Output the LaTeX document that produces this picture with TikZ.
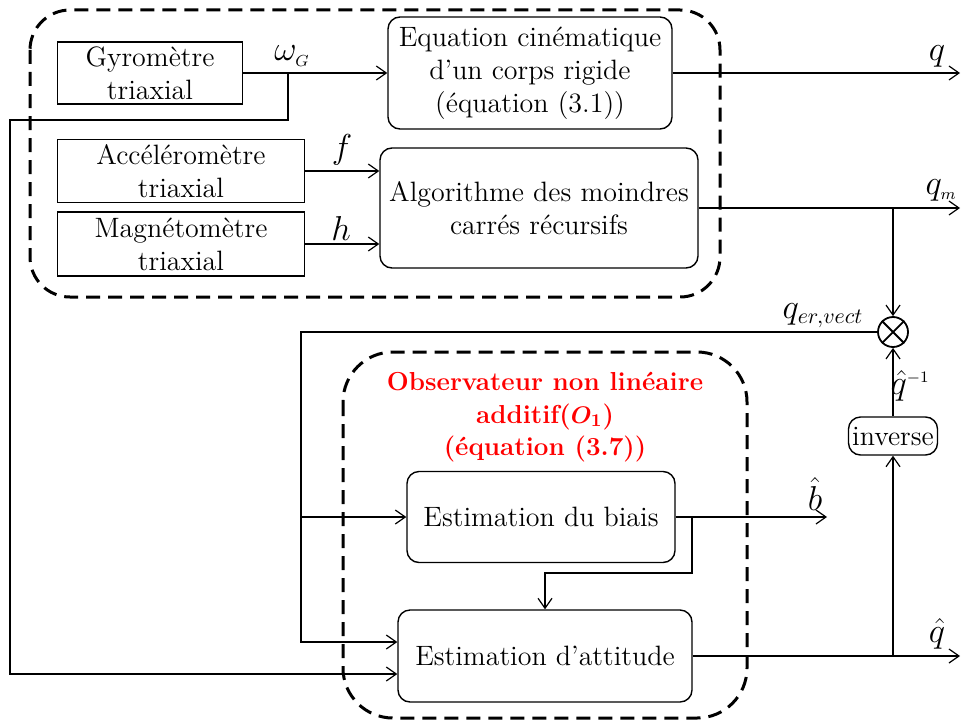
\documentclass[tikz,border=0pt]{standalone}
\usepackage{tikz}
\usetikzlibrary{arrows.meta, shapes.geometric, positioning}

\begin{document}
\begin{tikzpicture}[
        x=0.5pt, y=-0.5pt,
        font=\fontsize{14}{16.5}\selectfont,
        block/.style={rectangle, draw, line width=0.7pt, align=center, inner sep=0pt},
        rblock/.style={block, rounded corners=6pt},
        arrow/.style={line width=0.6pt, -{Straight Barb[length=5pt,width=7pt]}},
        link/.style={line width=0.6pt},
        group/.style={line width=1.5pt, dash pattern=on 7pt off 4pt, rounded corners=20pt},
        title/.style={text=red, font=\fontsize{13}{16.5}\selectfont\bfseries\mathversion{bold}, align=center},
        lbl/.style={font=\fontsize{16}{18}\selectfont, inner sep=1pt}
    ]
        \useasboundingbox (0,0) rectangle (961,722);

        % Sensors and first estimators
        \node[block, minimum width=92.5pt, minimum height=31pt] (gyro) at (150,73) {Gyromètre\\triaxial};
        \node[block, minimum width=123.5pt, minimum height=31.5pt] (accel) at (181,171) {Accéléromètre\\triaxial};
        \node[block, minimum width=123.5pt, minimum height=32pt] (magneto) at (181,244) {Magnétomètre\\triaxial};
        \node[rblock, minimum width=142pt, minimum height=56pt] (eqCin) at (530,73) {Equation cinématique\\d'un corps rigide\\(équation (3.1))};
        \node[rblock, minimum width=159pt, minimum height=60pt] (algo) at (539,208) {Algorithme des moindres\\carrés récursifs};

        % Observer
        \node[rblock, minimum width=134pt, minimum height=45.5pt] (biais) at (541,517) {Estimation du biais};
        \node[rblock, minimum width=147pt, minimum height=46pt] (attitude) at (545,656) {Estimation d'attitude};
        \node[rblock, minimum width=44.5pt, minimum height=19pt] (inverse) at (893,436) {inverse};
        \node[circle, draw, line width=0.9pt, minimum size=15pt, inner sep=0pt] (mult) at (893,332) {};
        \draw[line width=0.9pt] (mult.north west) -- (mult.south east) (mult.north east) -- (mult.south west);

        % Dashed groups
        \draw[group] (30,10) rectangle (720,297);
        \draw[group, rounded corners=25pt] (343,352) rectangle (747,718);
        \node[title] (obsTitle) at (545,401) {Observateur non linéaire\\additif($O_1$)};
        \node[title] (obsEq) at (545,449) {(équation (3.7))};

        % Tap points
        \coordinate (gyroTap) at (288,73);
        \coordinate (leftRail) at (10,120);
        \coordinate (errX) at (301,0);
        \coordinate (biaisTap) at (692,517);
        \coordinate (biaisBend) at (545,573);
        \coordinate (qmTap) at (893,208);
        \coordinate (qhatTap) at (893,656);
        \coordinate (qOut) at (960,73);
        \coordinate (qmOut) at (960,208);
        \coordinate (qhatOut) at (960,656);
        \coordinate (bOut) at (827,517);

        % Arrows for the sensors
        \draw[arrow] (gyro.east) -- (eqCin.west);
        \draw[arrow] (accel.east) -- (accel.east -| algo.west);
        \draw[arrow] (magneto.east) -- (magneto.east -| algo.west);
        \draw[arrow] (gyroTap) |- (leftRail) |- ([yshift=-9pt]attitude.west);

        % Outputs
        \draw[arrow] (eqCin.east) -- (qOut);
        \draw[arrow] (algo.east) -- (qmOut);
        \draw[arrow] (qmTap) -- (mult.north);
        \draw[arrow] (attitude.east) -- (qhatOut);
        \draw[arrow] (qhatTap) -- (inverse.south);
        \draw[arrow] (inverse.north) -- (mult.south);

        % Error feedback
        \draw[arrow] (mult.west) -- (mult.west -| errX) |- ([yshift=7pt]attitude.west);
        \draw[arrow] (biais.west -| errX) -- (biais.west);
        \draw[arrow] (biais.east) -- (bOut);
        \draw[arrow] (biaisTap) |- (biaisBend) -- (attitude.north);

        % Labels
        \node[lbl] (lOmega) at (292,56) {$\omega_{\scriptscriptstyle G}$};
        \node[lbl] (lF) at (342,150) {$f$};
        \node[lbl] (lH) at (341,228) {$h$};
        \node[lbl] (lQ) at (937,56) {$q$};
        \node[lbl] (lQm) at (941,190) {$q_{\scriptscriptstyle m}$};
        \node[lbl] (lQer) at (823,316) {$q_{er,vect}$};
        \node[lbl] (lB) at (815,494) {$\hat{b}$};
        \node[lbl] (lQinv) at (910,386) {$\hat{q}^{\scriptscriptstyle -1}$};
        \node[lbl] (lQhat) at (937,634) {$\hat{q}$};
    \end{tikzpicture}
\end{document}
